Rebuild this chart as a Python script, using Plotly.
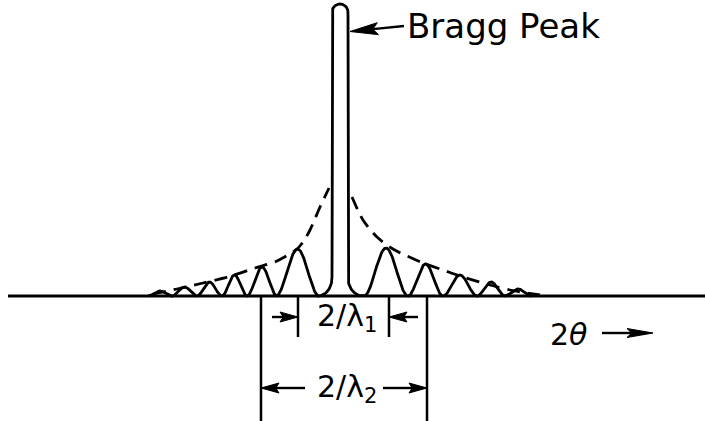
import numpy as np
import plotly.graph_objects as go

# Horizontal positions are measured from the Bragg position (2θ offset),
# vertical values are intensity above the baseline; one unit is one pixel
# on both axes, so shapes keep their proportions.
BRAGG_HEIGHT = 292
BRAGG_HALF_WIDTH = 8
BRAGG_FILLET_LEFT = (14, 18)   # horizontal, vertical radius of the foot
BRAGG_FILLET_RIGHT = (15, 18)

# Subsidiary (satellite) maxima on both sides of the Bragg peak
side_centers = [-180, -155.5, -130.5, -105.5, -78, -42.5, 46, 85.5, 120, 151, 178]
side_heights = [5, 9, 14, 21, 29, 47, 48, 32, 21, 14, 7]
side_half_widths = [12, 12.5, 12.5, 12.5, 15, 21.5, 22, 17.5, 17, 14, 13.5]

# Dashed envelope through the maxima, on each side of the Bragg peak
env_left_x = [-187, -163, -137, -112, -85, -63, -43, -37, -30, -20, -11]
env_left_y = [2, 7, 13, 19, 28, 35, 47, 54, 66, 89, 108]
env_right_x = [12, 23, 37, 53, 83, 103, 123, 150, 170, 200]
env_right_y = [99, 76, 59, 47, 33, 26, 19, 11, 6, 1]

# Dimension marks: first and second satellite positions
dim1 = [-42, 49]
dim2 = [-79, 87]
DIM1_LEVEL = -21
DIM2_LEVEL = -92

X_RANGE = [-340, 365]
Y_RANGE = [-125, 296]
INK = "black"
LW = 2.8
FONT = "DejaVu Sans"


def side_profile(x):
    y = np.zeros_like(x)
    for c, h, w in zip(side_centers, side_heights, side_half_widths):
        u = np.abs(x - c) / w
        m = u < 1
        y[m] += h * (1 + np.cos(np.pi * u[m])) / 2
    return y


def bragg_outline():
    r = BRAGG_HALF_WIDTH
    ys = np.linspace(0, BRAGG_HEIGHT - r, 600)

    def half_width(y, fillet):
        rx, ry = fillet
        t = np.clip((ry - y) / ry, 0, 1)
        return r + rx - rx * np.sqrt(1 - t ** 2)

    left_x = -half_width(ys, BRAGG_FILLET_LEFT)
    right_x = half_width(ys, BRAGG_FILLET_RIGHT)
    th = np.linspace(np.pi, 0, 60)
    top_x = r * np.cos(th)
    top_y = (BRAGG_HEIGHT - r) + r * np.sin(th)
    xs = np.concatenate([left_x, top_x, right_x[::-1]])
    yv = np.concatenate([ys, top_y, ys[::-1]])
    return xs, yv


left_start = side_centers[0] - side_half_widths[0]
right_end = side_centers[-1] + side_half_widths[-1]
xl = np.linspace(left_start, -(BRAGG_HALF_WIDTH + BRAGG_FILLET_LEFT[0]), 600)
xr = np.linspace(BRAGG_HALF_WIDTH + BRAGG_FILLET_RIGHT[0], right_end, 600)
bx, by = bragg_outline()
curve_x = np.concatenate([xl, bx, xr])
curve_y = np.concatenate([side_profile(xl), by, side_profile(xr)])

fig = go.Figure()

# baseline
fig.add_trace(go.Scatter(x=[-332, 365], y=[0, 0], mode="lines",
                         line=dict(color=INK, width=3), hoverinfo="skip"))
# dashed envelope
for ex, ey in ((env_left_x, env_left_y), (env_right_x, env_right_y)):
    fig.add_trace(go.Scatter(x=ex, y=ey, mode="lines",
                             line=dict(color=INK, width=2.8, dash="13px,8px",
                                       shape="spline", smoothing=0.8),
                             hoverinfo="skip"))
# intensity curve
fig.add_trace(go.Scatter(x=curve_x, y=curve_y, mode="lines",
                         line=dict(color=INK, width=LW), hoverinfo="skip"))

# extension lines for the dimensions
for xv in dim1:
    fig.add_trace(go.Scatter(x=[xv, xv], y=[-1, -41], mode="lines",
                             line=dict(color=INK, width=2.5), hoverinfo="skip"))
for xv in dim2:
    fig.add_trace(go.Scatter(x=[xv, xv], y=[-1, -125], mode="lines",
                             line=dict(color=INK, width=2.5), hoverinfo="skip"))


def arrow(tail, tip, head_len=18, head_w=10):
    """Shaft plus a filled, slightly barbed head ending at `tip`."""
    (x0, y0), (x1, y1) = tail, tip
    d = np.array([x1 - x0, y1 - y0], float)
    d /= np.hypot(*d)
    n = np.array([-d[1], d[0]])
    tip_p = np.array([x1, y1], float)
    back = tip_p - d * head_len
    notch = tip_p - d * head_len * 0.82
    pts = [tip_p, back + n * head_w / 2, notch, back - n * head_w / 2, tip_p]
    fig.add_trace(go.Scatter(x=[x0, notch[0]], y=[y0, notch[1]], mode="lines",
                             line=dict(color=INK, width=2.4), hoverinfo="skip"))
    fig.add_trace(go.Scatter(x=[p[0] for p in pts], y=[p[1] for p in pts],
                             mode="lines", fill="toself", fillcolor=INK,
                             line=dict(color=INK, width=1), hoverinfo="skip"))


# 2/λ1 arrows pointing inwards
arrow((dim1[0] - 26, DIM1_LEVEL), (dim1[0], DIM1_LEVEL))
arrow((dim1[1] + 29, DIM1_LEVEL), (dim1[1], DIM1_LEVEL))
# 2/λ2 arrows pointing outwards
arrow((-35, DIM2_LEVEL), (dim2[0], DIM2_LEVEL))
arrow((43, DIM2_LEVEL), (dim2[1], DIM2_LEVEL))
# Bragg peak pointer
arrow((64, 270), (BRAGG_HALF_WIDTH + 2, 264.5), head_len=28, head_w=12)
# 2θ direction
arrow((262, -37), (313, -37), head_len=26, head_w=9)


def label(x, y, text, anchor="center", size=29):
    fig.add_annotation(x=x, y=y, xref="x", yref="y", text=text, showarrow=False,
                       xanchor=anchor, yanchor="middle",
                       font=dict(family=FONT, size=size, color=INK))


label(65, 270, "Bragg Peak", anchor="left", size=34)
label(7, DIM1_LEVEL, "2/λ<sub>1</sub>", size=30)
label(7, DIM2_LEVEL, "2/λ<sub>2</sub>", size=30)
label(228, -38, "2<i>θ</i>", size=30)

fig.update_layout(
    width=705, height=421,
    margin=dict(l=0, r=0, t=0, b=0),
    paper_bgcolor="white", plot_bgcolor="white",
    showlegend=False,
    xaxis=dict(range=X_RANGE, visible=False, fixedrange=True),
    yaxis=dict(range=Y_RANGE, visible=False, fixedrange=True),
)

fig.write_html("out.html")
